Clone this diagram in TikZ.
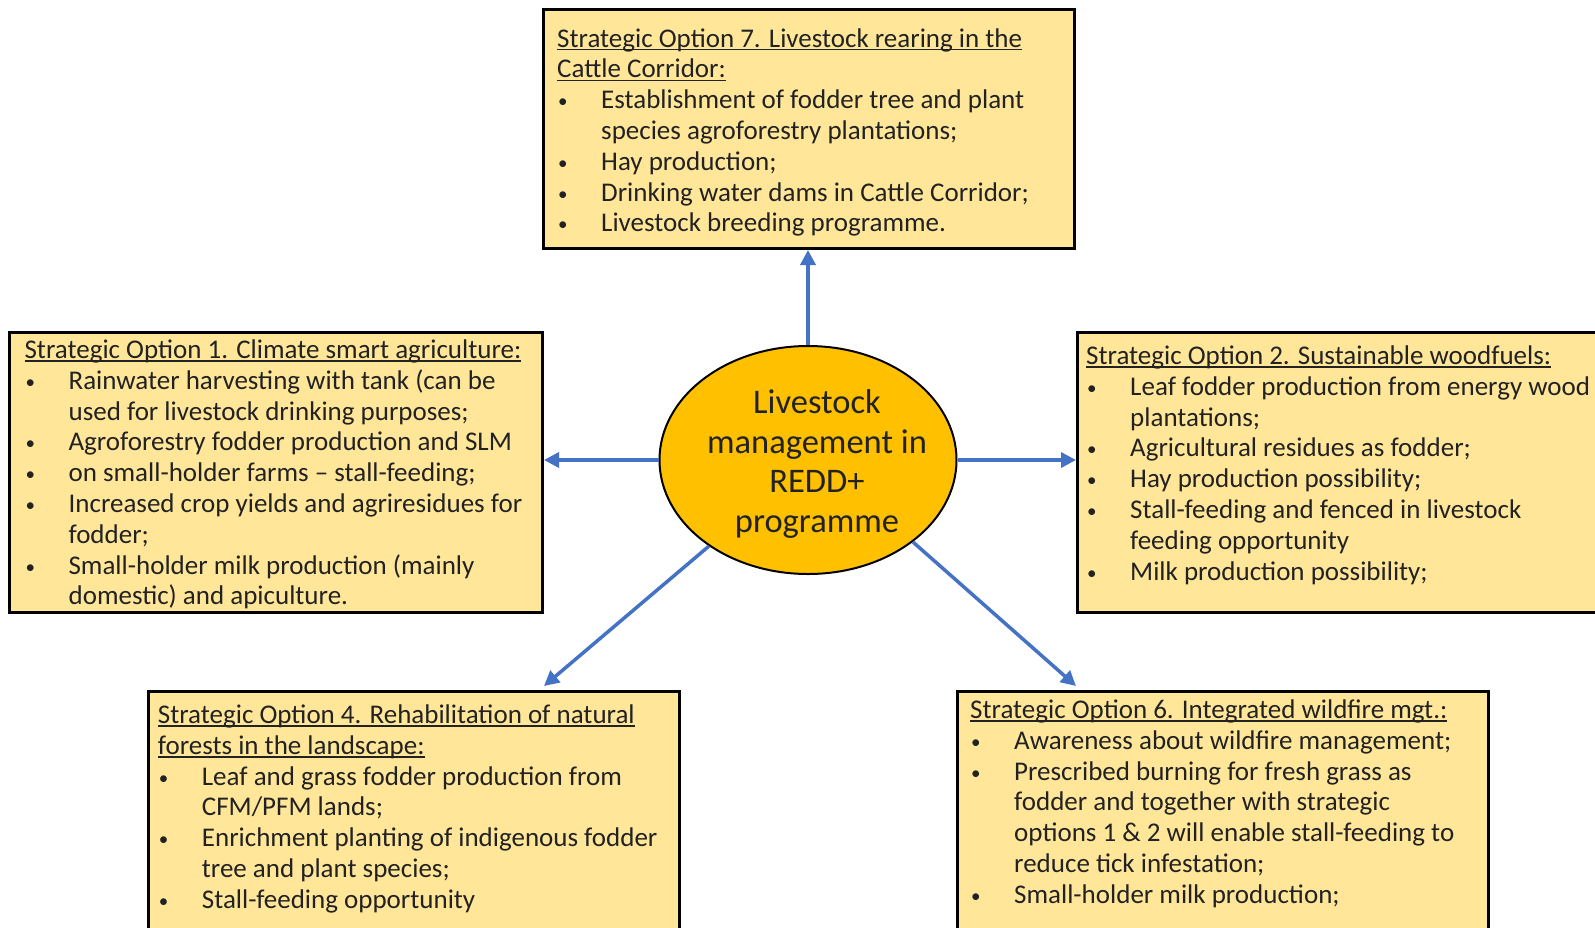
\documentclass[tikz,border=0pt]{standalone}
\usepackage{fontspec}
\setmainfont{Carlito}
\usetikzlibrary{shapes.geometric,arrows.meta,calc}
\definecolor{boxfill}{HTML}{FFE699}
\definecolor{ellfill}{HTML}{FFC000}
\definecolor{arrblue}{HTML}{4472C4}
\definecolor{ink}{HTML}{222222}
\setlength\parindent{0pt}
\newcommand\ulx[1]{\leavevmode\setbox0\hbox{#1}\rlap{\rule[-3.4pt]{\wd0}{1.7pt}}\box0}
\newcommand\bl{\leavevmode\hspace*{1pt}\makebox[43pt][l]{\raisebox{1pt}{\fontsize{19}{19}\selectfont •}}}
\newcommand\cn{\leavevmode\hspace*{44pt}}
\tikzset{
  box/.style={draw=black, line width=3pt, fill=boxfill, rectangle, anchor=north west, inner sep=0pt},
  txt/.style={anchor=base west, inner sep=0pt, text=ink, font=\fontsize{27}{30.8}\selectfont},
  hub/.style={ellipse, draw=black, line width=2pt, fill=ellfill, inner sep=0pt,
    minimum width=297pt, minimum height=228pt},
  hubtxt/.style={align=center, text=ink, inner sep=0pt, font=\fontsize{34.5}{39.7}\selectfont},
  conn/.style={draw=arrblue, line width=3.5pt, -{Triangle[length=15pt,width=15pt]}}
}
\begin{document}
\begin{tikzpicture}[x=1pt,y=-1pt]
\clip (0,0) rectangle (1595,927);
\fill[white] (0,0) rectangle (1595,927);
% boxes
\node[box, minimum width=531pt, minimum height=239pt] (b7) at (542,8) {};
\node[box, minimum width=533pt, minimum height=280pt] (b1) at (8,331) {};
\node[box, minimum width=544pt, minimum height=280pt] (b2) at (1076,331) {};
\node[box, minimum width=531pt, minimum height=260pt] (b4) at (147,690) {};
\node[box, minimum width=531pt, minimum height=260pt] (b6) at (956,690) {};
% texts
\node[txt] (t7) at (557,47) {\begin{minipage}[t]{620pt}
\ulx{Strategic Option 7. Livestock rearing in the}\\
\ulx{Cattle Corridor:}\\
\bl Establishment of fodder tree and plant\\
\cn species agroforestry plantations;\\
\bl Hay production;\\
\bl Drinking water dams in Cattle Corridor;\\
\bl Livestock breeding programme.
\end{minipage}};
\node[txt] (t1) at (24.4,358.5) {\begin{minipage}[t]{620pt}
\ulx{Strategic Option 1. Climate smart agriculture:}\\
\bl Rainwater harvesting with tank (can be\\
\cn used for livestock drinking purposes;\\
\bl Agroforestry fodder production and SLM\\
\bl on small-holder farms – stall-feeding;\\
\bl Increased crop yields and agriresidues for\\
\cn fodder;\\
\bl Small-holder milk production (mainly\\
\cn domestic) and apiculture.
\end{minipage}};
\node[txt] (t2) at (1086,364.5) {\begin{minipage}[t]{620pt}
\ulx{Strategic Option 2. Sustainable woodfuels:}\\
\bl Leaf fodder production from energy wood\\
\cn plantations;\\
\bl Agricultural residues as fodder;\\
\bl Hay production possibility;\\
\bl Stall-feeding and fenced in livestock\\
\cn feeding opportunity\\
\bl Milk production possibility;
\end{minipage}};
\node[txt] (t4) at (157.7,723.5) {\begin{minipage}[t]{620pt}
\ulx{Strategic Option 4. Rehabilitation of natural}\\
\ulx{forests in the landscape:}\\
\bl Leaf and grass fodder production from\\
\cn CFM/PFM lands;\\
\bl Enrichment planting of indigenous fodder\\
\cn tree and plant species;\\
\bl Stall-feeding opportunity
\end{minipage}};
\node[txt] (t6) at (970,718.5) {\begin{minipage}[t]{620pt}
\ulx{Strategic Option 6. Integrated wildfire mgt.:}\\
\bl Awareness about wildfire management;\\
\bl Prescribed burning for fresh grass as\\
\cn fodder and together with strategic\\
\cn options 1 \& 2 will enable stall-feeding to\\
\cn reduce tick infestation;\\
\bl Small-holder milk production;
\end{minipage}};
% hub
\node[hub] (ell) at (808,460) {};
\node[hubtxt] (hubt) at ($(ell.center)+(9,4)$) {Livestock\\management in\\REDD+\\programme};
% connectors
\draw[conn] (ell.north) -- (ell.north |- b7.south);
\draw[conn] (ell.west) -- (ell.west -| b1.east);
\draw[conn] (ell.east) -- (ell.east -| b2.west);
\draw[conn] (ell.221) -- ($(b4.north west)+(397,-4)$);
\draw[conn] (ell.322) -- ($(b6.north west)+(120,-4)$);
\end{tikzpicture}
\end{document}
